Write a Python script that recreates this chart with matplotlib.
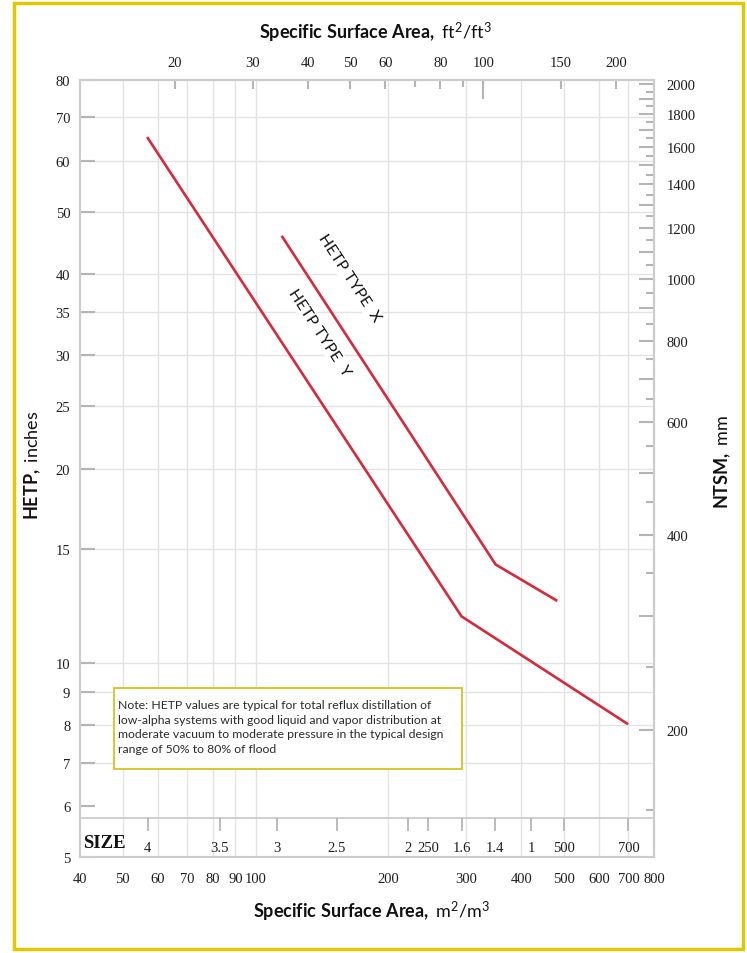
import matplotlib.pyplot as plt
from matplotlib.patches import Rectangle
from matplotlib.ticker import FixedLocator, FuncFormatter, NullFormatter

plt.rcParams['font.family'] = 'Liberation Serif'
plt.rcParams['mathtext.fontset'] = 'custom'
plt.rcParams['mathtext.rm'] = 'Lato'
plt.rcParams['mathtext.bf'] = 'Lato:bold'
plt.rcParams['mathtext.it'] = 'Lato:italic'

# HETP (inches) against specific surface area (m2/m3)
type_x_area = [115, 350, 480]
type_x_hetp = [45.7, 14.2, 12.5]
type_y_area = [57, 293, 695]
type_y_hetp = [65, 11.8, 8.05]

# packing sizes along the bottom strip
size_labels = ['4', '3.5', '3', '2.5', '2', '250', '1.6', '1.4', '1', '500', '700']
size_areas = [57, 83, 112, 153, 221, 246, 293, 348, 421, 500, 700]

hetp_ticks = [5, 6, 7, 8, 9, 10, 15, 20, 25, 30, 35, 40, 50, 60, 70, 80]
hetp_grid = [7, 8, 9, 10, 15, 20, 25, 30, 35, 40, 50, 60, 70]
area_m_ticks = [40, 50, 60, 70, 80, 90, 100, 200, 300, 400, 500, 600, 700, 800]
area_m_grid = [50, 60, 70, 80, 90, 100, 200, 300, 400, 500, 600, 700]
area_ft_ticks = [20, 30, 40, 50, 60, 80, 100, 150, 200]
area_ft_minor = [70, 90]
ntsm_major = list(range(200, 2001, 100))
ntsm_minor = list(range(150, 2001, 100))

M2_PER_FT2 = 3.2808
MM_PER_IN = 25.4

red = '#d62a3c'
spine_c = '#cccccc'
grid_c = '#e3e3e3'
tick_c = '#b5b5b5'
txt_c = '#1e1e1e'

fig = plt.figure(figsize=(7.47, 9.54), dpi=100)
ax = fig.add_axes([0.1071, 0.1006, 0.7684, 0.8145])
ax.set_xscale('log')
ax.set_yscale('log')
ax.set_xlim(40, 800)
ax.set_ylim(5, 80)

# grid
for v in area_m_grid:
    ax.axvline(v, color=grid_c, lw=1, zorder=0)
for v in hetp_grid:
    ax.axhline(v, color=grid_c, lw=1, zorder=0)

ax.plot(type_y_area, type_y_hetp, color=red, lw=1.9, zorder=3)
ax.plot(type_x_area, type_x_hetp, color=red, lw=1.9, zorder=3)

ax.text(163, 39.5, 'HETP TYPE  X', rotation=-56.7, rotation_mode='anchor',
        ha='center', va='center', fontfamily='Lato', fontsize=11.5, color='#111111',
        bbox=dict(fc='white', ec='none', pad=1), zorder=2)
ax.text(139.6, 32.5, 'HETP TYPE  Y', rotation=-56.7, rotation_mode='anchor',
        ha='center', va='center', fontfamily='Lato', fontsize=11.5, color='#111111',
        bbox=dict(fc='white', ec='none', pad=1), zorder=2)

# note box
ax.add_patch(Rectangle((0.0592, 0.1133), 0.6063, 0.1042, transform=ax.transAxes,
                       fc='white', ec='#d9c62c', lw=1.4, zorder=2))
note = ('Note: HETP values are typical for total reflux distillation of\n'
        'low-alpha systems with good liquid and vapor distribution at\n'
        'moderate vacuum to moderate pressure in the typical design\n'
        'range of 50% to 80% of flood')
ax.text(0.0662, 0.2035, note, transform=ax.transAxes, ha='left', va='top',
        fontfamily='Lato', fontsize=8.8, linespacing=1.42, color='#2a2a2a', zorder=3)

# size strip
ax.plot([0, 1], [0.05, 0.05], transform=ax.transAxes, color=spine_c, lw=1.3, zorder=1)
xt = ax.get_xaxis_transform()
ax.vlines(size_areas, 0.033, 0.05, transform=xt, color=tick_c, lw=1.3, zorder=1)
for lab, a in zip(size_labels, size_areas):
    ax.text(a, 0.008, lab, transform=xt, ha='center', va='baseline',
            fontsize=10.5, color=txt_c)
ax.text(0.006, 0.013, 'SIZE', transform=ax.transAxes, ha='left', va='baseline',
        fontsize=13.5, fontweight='bold', color='#111111')

# bottom / left axes
ax.xaxis.set_major_locator(FixedLocator(area_m_ticks))
ax.xaxis.set_major_formatter(FuncFormatter(lambda v, p: f'{v:.0f}'))
ax.xaxis.set_minor_locator(FixedLocator([]))
ax.yaxis.set_major_locator(FixedLocator(hetp_ticks))
ax.yaxis.set_major_formatter(FuncFormatter(lambda v, p: f'{v:.0f}'))
ax.yaxis.set_minor_locator(FixedLocator([]))
ax.tick_params(axis='x', which='major', length=0, pad=11, labelsize=10.5, labelcolor=txt_c)
ax.tick_params(axis='y', which='major', direction='in', length=11, width=1.5,
               color=tick_c, pad=7, labelsize=10.5, labelcolor=txt_c)
for s in ax.spines.values():
    s.set_color(spine_c)
    s.set_linewidth(1.5)

# top axis in ft2/ft3
top = ax.secondary_xaxis('top', functions=(lambda x: x / M2_PER_FT2, lambda x: x * M2_PER_FT2))
top.xaxis.set_major_locator(FixedLocator(area_ft_ticks))
top.xaxis.set_major_formatter(FuncFormatter(lambda v, p: f'{v:.0f}'))
top.xaxis.set_minor_locator(FixedLocator(area_ft_minor))
top.xaxis.set_minor_formatter(NullFormatter())
top.tick_params(which='major', direction='in', length=6.5, width=1.5, color=tick_c,
                pad=8, labelsize=10.5, labelcolor=txt_c)
top.tick_params(which='minor', direction='in', length=5, width=1.5, color=tick_c)
for s in top.spines.values():
    s.set_color(spine_c)
    s.set_linewidth(1.5)

top_long = ax.secondary_xaxis('top', functions=(lambda x: x / M2_PER_FT2, lambda x: x * M2_PER_FT2))
top_long.xaxis.set_major_locator(FixedLocator([100]))
top_long.xaxis.set_major_formatter(NullFormatter())
top_long.xaxis.set_minor_locator(FixedLocator([]))
top_long.tick_params(which='major', direction='in', length=14, width=1.5, color=tick_c)
for s in top_long.spines.values():
    s.set_visible(False)

# right axis in mm
right = ax.secondary_yaxis('right', functions=(lambda y: y * MM_PER_IN, lambda y: y / MM_PER_IN))
right.yaxis.set_major_locator(FixedLocator(ntsm_major))
right.yaxis.set_major_formatter(FuncFormatter(lambda v, p: '' if round(v) % 200 else f'{v:.0f}'))
right.yaxis.set_minor_locator(FixedLocator(ntsm_minor))
right.yaxis.set_minor_formatter(NullFormatter())
right.tick_params(which='major', direction='in', length=11, width=1.5, color=tick_c,
                  pad=9, labelsize=10.5, labelcolor=txt_c)
right.tick_params(which='minor', direction='in', length=6, width=1.5, color=tick_c)
for s in right.spines.values():
    s.set_color(spine_c)
    s.set_linewidth(1.5)

# axis titles
title_kw = dict(ha='center', va='center', fontfamily='Lato', fontsize=13, color='#111111')
fig.text(375 / 747, 1 - 33 / 954, r'$\mathbf{Specific\ Surface\ Area,}$ ft$^2$/ft$^3$', **title_kw)
fig.text(371 / 747, 1 - 912 / 954, r'$\mathbf{Specific\ Surface\ Area,}$ m$^2$/m$^3$', **title_kw)
fig.text(33 / 747, 1 - 465 / 954, r'$\mathbf{HETP,}$ inches', rotation=90, **title_kw)
fig.text(723 / 747, 1 - 462 / 954, r'$\mathbf{NTSM,}$ mm', rotation=90, **title_kw)

# frame round the figure
fig.patches.append(Rectangle((14 / 747, 1 - 950 / 954), (743 - 14) / 747, (950 - 4) / 954,
                             transform=fig.transFigure, fill=False, ec='#e0c900', lw=2.5))

fig.savefig('out.png', dpi=100)
